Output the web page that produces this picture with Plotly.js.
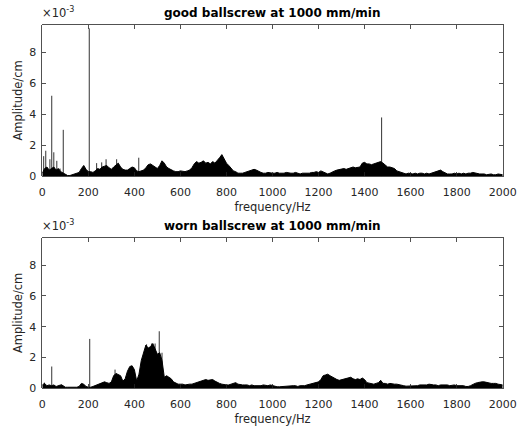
<!DOCTYPE html>
<html>
<head>
<meta charset="utf-8">
<script src="https://cdn.plot.ly/plotly-3.0.1.min.js"></script>
<style>html,body{margin:0;padding:0;background:#fff;}#chart{width:526px;height:432px;}</style>
</head>
<body>
<div id="chart"></div>
<script>
// Amplitudes in units of 1e-3 cm, sampled every 10 Hz from 0 to 2000 Hz
const freqStep = 10;
const goodEnvelope = [
0.2,0.5,0.6,0.4,0.5,0.6,0.4,0.5,0.3,0.2,
0.1,0.05,0.05,0.1,0.15,0.2,0.25,0.5,0.7,0.45,
0.3,0.3,0.25,0.35,0.5,0.45,0.6,0.65,0.7,0.55,
0.45,0.6,0.75,0.85,0.6,0.45,0.4,0.4,0.5,0.6,
0.55,0.35,0.3,0.35,0.4,0.55,0.75,0.8,0.7,0.55,
0.5,0.7,1.0,0.85,0.6,0.5,0.4,0.35,0.3,0.3,
0.35,0.3,0.3,0.35,0.4,0.55,0.8,0.95,0.85,0.9,
1.0,0.85,0.9,0.8,0.95,0.85,1.0,1.2,1.4,1.1,
0.85,0.7,0.5,0.35,0.3,0.2,0.2,0.2,0.25,0.3,
0.4,0.45,0.45,0.4,0.3,0.25,0.2,0.2,0.25,0.2,
0.2,0.2,0.25,0.2,0.2,0.2,0.25,0.2,0.2,0.2,
0.25,0.2,0.15,0.2,0.2,0.2,0.2,0.25,0.25,0.3,
0.25,0.35,0.3,0.2,0.15,0.2,0.3,0.35,0.4,0.45,
0.45,0.5,0.45,0.5,0.55,0.6,0.55,0.6,0.6,0.85,
0.9,0.8,0.8,0.75,0.8,0.85,0.9,0.95,0.85,0.7,
0.6,0.6,0.55,0.5,0.35,0.3,0.25,0.2,0.15,0.2,
0.15,0.15,0.2,0.15,0.2,0.2,0.15,0.2,0.15,0.2,
0.25,0.3,0.4,0.4,0.3,0.2,0.15,0.15,0.15,0.2,
0.15,0.2,0.15,0.2,0.15,0.2,0.2,0.25,0.2,0.15,
0.15,0.15,0.15,0.1,0.15,0.15,0.1,0.1,0.15,0.1,
0.1];
const goodSpikeFreq = [6,15,33,41,50,63,77,91,204,236,258,277,323,419,1474];
const goodSpikeAmp  = [1.3,1.65,1.1,5.2,1.55,1.0,0.5,3.0,9.55,0.85,0.9,1.1,1.1,1.2,3.8];

const wornEnvelope = [
0.2,0.3,0.15,0.2,0.15,0.2,0.1,0.15,0.2,0.15,
0.05,0.05,0.05,0.05,0.05,0.05,0.1,0.3,0.25,0.1,
0.05,0.05,0.1,0.15,0.2,0.25,0.35,0.4,0.35,0.3,
0.4,0.8,0.95,0.9,0.8,0.45,0.6,1.1,1.4,1.45,
1.2,0.45,0.9,1.8,2.4,2.8,2.6,2.7,2.9,2.6,
2.2,2.3,1.8,0.7,0.8,0.7,0.6,0.4,0.3,0.25,
0.25,0.25,0.2,0.25,0.25,0.25,0.3,0.3,0.35,0.4,
0.5,0.55,0.5,0.55,0.55,0.45,0.35,0.3,0.25,0.2,
0.2,0.2,0.25,0.3,0.35,0.25,0.2,0.2,0.2,0.2,
0.15,0.2,0.15,0.15,0.15,0.15,0.2,0.15,0.15,0.2,
0.15,0.1,0.08,0.08,0.1,0.08,0.1,0.15,0.15,0.15,
0.15,0.1,0.15,0.15,0.15,0.2,0.25,0.3,0.3,0.35,
0.4,0.55,0.8,0.85,0.9,0.8,0.7,0.6,0.55,0.5,
0.55,0.55,0.6,0.65,0.7,0.6,0.55,0.6,0.55,0.65,
0.55,0.35,0.3,0.3,0.25,0.3,0.35,0.5,0.3,0.3,
0.25,0.3,0.25,0.25,0.25,0.2,0.2,0.15,0.12,0.12,
0.12,0.15,0.12,0.15,0.2,0.2,0.2,0.2,0.25,0.2,
0.2,0.2,0.15,0.2,0.2,0.2,0.2,0.15,0.2,0.2,
0.15,0.15,0.15,0.15,0.1,0.1,0.15,0.25,0.3,0.35,
0.4,0.4,0.4,0.35,0.35,0.3,0.3,0.3,0.25,0.2,
0.2];
const wornSpikeFreq = [9,41,84,206,316,453,463,475,490,508,520];
const wornSpikeAmp  = [0.35,1.4,0.25,3.2,1.2,2.85,2.6,2.9,2.9,3.7,2.3];

const titles = ['good ballscrew at 1000 mm/min','worn ballscrew at 1000 mm/min'];
const xTicks = [0,200,400,600,800,1000,1200,1400,1600,1800,2000];
const yTicks = [0,2,4,6,8];

function freqGrid(n){const f=[];for(let i=0;i<n;i++)f.push(i*freqStep);return f;}
function spikeXY(fr,am){const x=[],y=[];for(let i=0;i<fr.length;i++){x.push(fr[i],fr[i],null);y.push(0,am[i],null);}return {x,y};}

const ink = '#262626';
const FONT = 'DejaVu Sans, Liberation Sans, Arial';
const traces = [];
[[goodEnvelope,goodSpikeFreq,goodSpikeAmp,'x','y'],[wornEnvelope,wornSpikeFreq,wornSpikeAmp,'x2','y2']].forEach(([env,sf,sa,xa,ya])=>{
  const s = spikeXY(sf,sa);
  traces.push({type:'scatter',mode:'lines',x:s.x,y:s.y,xaxis:xa,yaxis:ya,
    line:{color:'#333',width:1},hoverinfo:'skip',connectgaps:false});
  traces.push({type:'scatter',mode:'lines',x:freqGrid(env.length),y:env,xaxis:xa,yaxis:ya,
    fill:'tozeroy',fillcolor:'#000',line:{color:'#000',width:1},hoverinfo:'skip'});
});

const xd=[42.3/526,502.7/526];
function xAxis(anchor){return {domain:xd,range:[0,2000],anchor:anchor,tickvals:xTicks,ticktext:xTicks.map(String),
  ticks:'inside',ticklen:4,tickcolor:ink,tickwidth:0.8,mirror:'allticks',showline:true,linecolor:ink,linewidth:0.8,
  showgrid:false,zeroline:false,tickfont:{family:FONT,size:11,color:ink},ticklabelstandoff:6,
  title:{text:'frequency/Hz',font:{family:FONT,size:11.5,color:ink},standoff:4}};}
function yAxis(anchor,dom){return {domain:dom,range:[0,9.8],anchor:anchor,tickvals:yTicks,ticktext:yTicks.map(String),
  ticks:'inside',ticklen:4,tickcolor:ink,tickwidth:0.8,mirror:'allticks',showline:true,linecolor:ink,linewidth:0.8,
  showgrid:false,zeroline:false,tickfont:{family:FONT,size:11,color:ink},ticklabelstandoff:3,
  title:{text:'Amplitude/cm',font:{family:FONT,size:11.5,color:ink},standoff:4}};}

const layout={width:526,height:432,margin:{l:0,r:0,t:0,b:0},paper_bgcolor:'#fff',plot_bgcolor:'#fff',showlegend:false,
  xaxis:xAxis('y'),yaxis:yAxis('x',[1-176.3/432,1-24.5/432]),
  xaxis2:xAxis('y2'),yaxis2:yAxis('x2',[1-388/432,1-237.7/432]),
  annotations:[
    {text:'<b>'+titles[0]+'</b>',xref:'paper',yref:'paper',x:0.5178,y:1-22/432,xanchor:'center',yanchor:'bottom',showarrow:false,font:{family:FONT,size:12,color:'#000'}},
    {text:'<b>'+titles[1]+'</b>',xref:'paper',yref:'paper',x:0.5178,y:1-235/432,xanchor:'center',yanchor:'bottom',showarrow:false,font:{family:FONT,size:12,color:'#000'}},
    {text:'×10<sup>-3</sup>',xref:'paper',yref:'paper',x:40/526,y:1-22/432,xanchor:'left',yanchor:'bottom',showarrow:false,font:{family:FONT,size:11.5,color:ink}},
    {text:'×10<sup>-3</sup>',xref:'paper',yref:'paper',x:40/526,y:1-235/432,xanchor:'left',yanchor:'bottom',showarrow:false,font:{family:FONT,size:11.5,color:ink}}
  ]};
Plotly.newPlot('chart',traces,layout,{staticPlot:true,displayModeBar:false});
</script>
</body>
</html>
